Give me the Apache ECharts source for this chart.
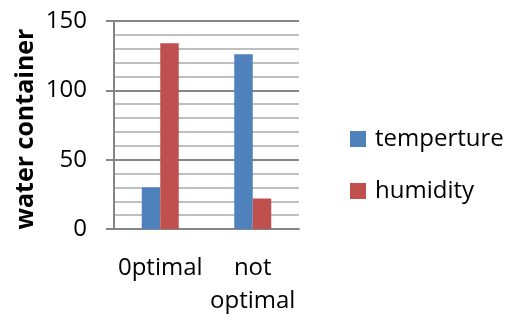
<!DOCTYPE html>
<html><head><meta charset="utf-8">
<script src="https://cdn.jsdelivr.net/npm/echarts@6/dist/echarts.min.js"></script>
<style>html,body{margin:0;padding:0;background:#fff}#c{width:506px;height:320px}</style>
</head><body><div id="c"></div>
<script>
const categories = ['0ptimal', 'not\noptimal'];
const temperture = [30, 126];
const humidity = [134, 22];
const yTicks = [0, 50, 100, 150];
const seriesNames = ['temperture', 'humidity'];
const FONT = 'Open Sans';
const chart = echarts.init(document.getElementById('c'), null, {renderer: 'canvas'});
chart.setOption({
  animation: false,
  textStyle: {fontFamily: FONT},
  grid: {left: 114, right: 207, top: 21, bottom: 91, containLabel: false},
  legend: {
    orient: 'vertical', left: 345, top: 122,
    itemWidth: 16, itemHeight: 16, itemGap: 28,
    icon: 'rect',
    textStyle: {fontFamily: FONT, fontSize: 24, color: '#000', padding: [0,0,0,4]},
    data: seriesNames
  },
  xAxis: {
    type: 'category', data: categories,
    axisLine: {lineStyle: {color: '#868686', width: 2}},
    axisTick: {show: false},
    axisLabel: {interval: 0, fontFamily: FONT, fontSize: 24, color: '#000', margin: 23, lineHeight: 33}
  },
  yAxis: {
    type: 'value', min: yTicks[0], max: yTicks[yTicks.length-1], interval: 50,
    name: 'water container', nameLocation: 'middle', nameGap: 76,
    nameTextStyle: {fontFamily: FONT, fontSize: 25, fontWeight: 'bold', color: '#000', padding: [0, 8, 0, 0]},
    axisLine: {show: true, lineStyle: {color: '#868686', width: 2}},
    axisTick: {show: true, length: 8, lineStyle: {color: '#868686', width: 2}},
    axisLabel: {fontFamily: FONT, fontSize: 24, color: '#000', margin: 27},
    splitLine: {lineStyle: {color: '#868686', width: 2}},
    minorTick: {show: false, splitNumber: 5},
    minorSplitLine: {show: true, lineStyle: {color: '#bfbfbf', width: 2}}
  },
  series: [
    {name: seriesNames[0], type: 'bar', data: temperture, barGap: '0%', barCategoryGap: '60%', itemStyle: {color: '#4F81BD'}},
    {name: seriesNames[1], type: 'bar', data: humidity, itemStyle: {color: '#C0504D'}}
  ]
});
</script></body></html>
